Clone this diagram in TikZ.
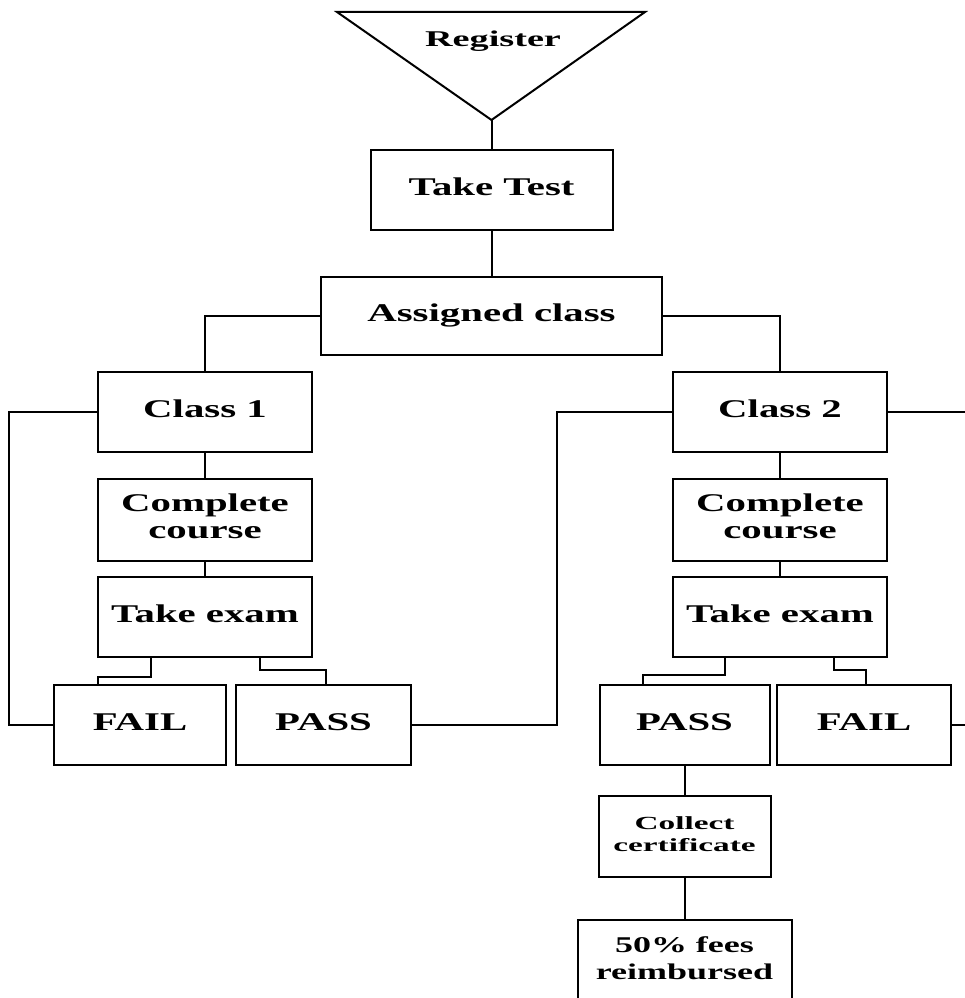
\documentclass[tikz,border=0pt]{standalone}
\usepackage{fontspec}
\setmainfont{Liberation Serif}
\usepackage{graphicx}
\usetikzlibrary{positioning, calc}
\newcommand{\wtext}[2][1.6]{\scalebox{#1}[1]{\begin{tabular}{@{}c@{}}#2\end{tabular}}}

\begin{document}
\begin{tikzpicture}[x=1pt, y=-1pt, line width=2pt]
\tikzset{Step/.style={shape=rectangle, draw, line width=2pt, inner sep=0pt, minimum width=214pt, minimum height=80pt, font=\bfseries\fontsize{25.5}{27}\selectfont}}
\tikzset{Outcome/.style={Step, minimum width=174pt}}
\tikzset{Small/.style={Step, minimum width=172pt, minimum height=81pt, font=\bfseries\fontsize{18.5}{22}\selectfont}}

\useasboundingbox (0,0) rectangle (965,998);
\clip (0,0) rectangle (965,998);

% nodes
\coordinate (apex) at (491.5,120);
\draw (337,12) -- (645,12) -- (apex) -- cycle;
\node[font=\bfseries\fontsize{22.5}{26}\selectfont] (reg) at (493,41) {\wtext[1.7]{Register}};

\node[Step, minimum width=242pt] (test) at (491.5,190) {\wtext{Take Test}};
\node[Step, minimum width=341pt, minimum height=78pt] (assigned) at (491.5,316) {\wtext{Assigned class}};

\node[Step] (class1) at (205,412) {\wtext{Class 1}};
\node[Step, minimum height=82pt] (course1) at (205,520) {\wtext{Complete\\course}};
\node[Step] (exam1) at (205,617) {\wtext{Take exam}};
\node[Outcome, minimum width=172pt] (fail1) at (140,725) {\wtext{FAIL}};
\node[Outcome, minimum width=175pt] (pass1) at (323.5,725) {\wtext{PASS}};

\node[Step] (class2) at (780,412) {\wtext{Class 2}};
\node[Step, minimum height=82pt] (course2) at (780,520) {\wtext{Complete\\course}};
\node[Step] (exam2) at (780,617) {\wtext{Take exam}};
\node[Outcome, minimum width=170pt] (pass2) at (684.5,725) {\wtext{PASS}};
\node[Outcome] (fail2) at (864,725) {\wtext{FAIL}};

\node[Small] (cert) at (684.5,836.5) {\wtext[1.8]{Collect\\certificate}};
\node[Step, minimum height=82pt, font=\bfseries\fontsize{22.5}{27}\selectfont] (fees) at (684.5,961) {\wtext{50\% fees\\reimbursed}};

% lines
\draw (apex) -- (test);
\draw (test) -- (assigned);
\draw (assigned.west) -| (class1);
\draw (assigned.east) -| (class2);
\draw (class1) -- (course1) -- (exam1);
\draw ([xshift=-54pt]exam1.south) -- ++(0,19) -| ([xshift=-42pt]fail1.north);
\draw ([xshift=55pt]exam1.south) -- ++(0,12) -| ([xshift=2.5pt]pass1.north);
\draw (class1.west) -- ++(-88,0) |- (fail1.west);
\draw (pass1.east) -- ++(145,0) |- (class2.west);

\draw (class2) -- (course2) -- (exam2);
\draw ([xshift=-55pt]exam2.south) -- ++(0,17) -| ([xshift=-42pt]pass2.north);
\draw ([xshift=54pt]exam2.south) -- ++(0,12) -| ([xshift=2pt]fail2.north);
\draw (class2.east) -- ++(90,0);
\draw (fail2.east) -- ++(20,0);
\draw (pass2) -- (cert) -- (fees);
\end{tikzpicture}
\end{document}
